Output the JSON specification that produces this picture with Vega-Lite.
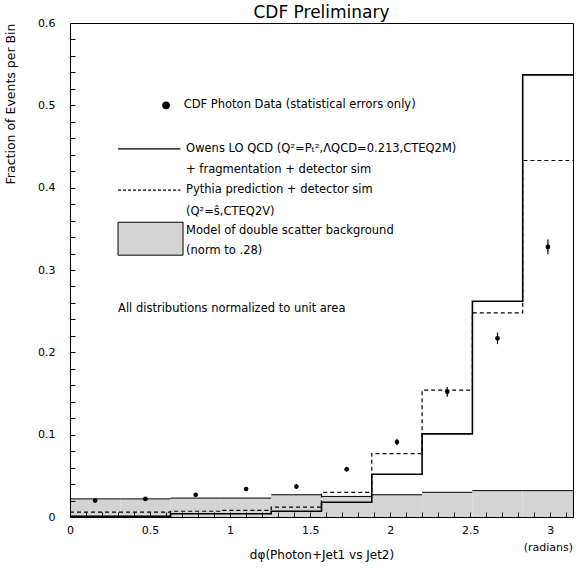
{
  "$schema": "https://vega.github.io/schema/vega-lite/v6.json",
  "width": 503,
  "height": 494,
  "autosize": "none",
  "padding": {"left": 70, "top": 23, "right": 11, "bottom": 54},
  "config": {
    "view": {"stroke": "black", "strokeWidth": 1},
    "font": "DejaVu Sans",
    "text": {"font": "DejaVu Sans"},
    "axis": {"labelOverlap": false, "labelFlush": false, "grid": false}
  },
  "title": {"text": "CDF Preliminary", "fontSize": 17, "fontWeight": "normal", "font": "DejaVu Sans", "offset": -5, "anchor": "middle", "color": "black"},
  "datasets": {
    "bg": [
      {"x": 0.0, "x2": 0.3142, "y": 0.022},
      {"x": 0.3142, "x2": 0.6283, "y": 0.022},
      {"x": 0.6283, "x2": 0.9425, "y": 0.023},
      {"x": 0.9425, "x2": 1.2566, "y": 0.023},
      {"x": 1.2566, "x2": 1.5708, "y": 0.027},
      {"x": 1.5708, "x2": 1.885, "y": 0.025},
      {"x": 1.885, "x2": 2.1991, "y": 0.027},
      {"x": 2.1991, "x2": 2.5133, "y": 0.030},
      {"x": 2.5133, "x2": 2.8274, "y": 0.032},
      {"x": 2.8274, "x2": 3.1416, "y": 0.032}
    ],
    "steps": [
      {"s": "owens", "x": 0.0, "y": 0.001},
      {"s": "owens", "x": 0.3142, "y": 0.001},
      {"s": "owens", "x": 0.6283, "y": 0.004},
      {"s": "owens", "x": 0.9425, "y": 0.004},
      {"s": "owens", "x": 1.2566, "y": 0.007},
      {"s": "owens", "x": 1.5708, "y": 0.018},
      {"s": "owens", "x": 1.885, "y": 0.052},
      {"s": "owens", "x": 2.1991, "y": 0.101},
      {"s": "owens", "x": 2.5133, "y": 0.262},
      {"s": "owens", "x": 2.8274, "y": 0.537},
      {"s": "owens", "x": 3.1416, "y": 0.537},
      {"s": "pythia", "x": 0.0, "y": 0.006},
      {"s": "pythia", "x": 0.3142, "y": 0.006},
      {"s": "pythia", "x": 0.6283, "y": 0.007},
      {"s": "pythia", "x": 0.9425, "y": 0.008},
      {"s": "pythia", "x": 1.2566, "y": 0.012},
      {"s": "pythia", "x": 1.5708, "y": 0.030},
      {"s": "pythia", "x": 1.885, "y": 0.077},
      {"s": "pythia", "x": 2.1991, "y": 0.154},
      {"s": "pythia", "x": 2.5133, "y": 0.248},
      {"s": "pythia", "x": 2.8274, "y": 0.433},
      {"s": "pythia", "x": 3.1416, "y": 0.433}
    ],
    "pts": [
      {"x": 0.157, "y": 0.020},
      {"x": 0.471, "y": 0.022},
      {"x": 0.785, "y": 0.027},
      {"x": 1.100, "y": 0.034},
      {"x": 1.414, "y": 0.037},
      {"x": 1.728, "y": 0.058},
      {"x": 2.042, "y": 0.091},
      {"x": 2.356, "y": 0.152},
      {"x": 2.670, "y": 0.217},
      {"x": 2.985, "y": 0.328}
    ],
    "err": [
      {"x": 0.157, "y": 0.018, "y2": 0.022},
      {"x": 0.471, "y": 0.020, "y2": 0.024},
      {"x": 0.785, "y": 0.025, "y2": 0.029},
      {"x": 1.100, "y": 0.032, "y2": 0.036},
      {"x": 1.414, "y": 0.034, "y2": 0.040},
      {"x": 1.728, "y": 0.055, "y2": 0.061},
      {"x": 2.042, "y": 0.087, "y2": 0.095},
      {"x": 2.356, "y": 0.146, "y2": 0.158},
      {"x": 2.670, "y": 0.210, "y2": 0.224},
      {"x": 2.985, "y": 0.319, "y2": 0.337}
    ],
    "legline": [
      {"s": "solid", "x": 0.30, "x2": 0.69, "y": 0.447},
      {"s": "dashed", "x": 0.30, "x2": 0.69, "y": 0.397}
    ],
    "legbox": [{"x": 0.30, "x2": 0.706, "y": 0.318, "y2": 0.358}],
    "legdot": [{"x": 0.60, "y": 0.5}],
    "labels": [
      {"x": 0.71, "y": 0.5, "t": "CDF Photon Data (statistical errors only)"},
      {"x": 0.725, "y": 0.447, "t": "Owens LO QCD (Q²=Pₜ²,ΛQCD=0.213,CTEQ2M)"},
      {"x": 0.725, "y": 0.422, "t": "+ fragmentation + detector sim"},
      {"x": 0.725, "y": 0.397, "t": "Pythia prediction + detector sim"},
      {"x": 0.725, "y": 0.371, "t": "(Q²=ŝ,CTEQ2V)"},
      {"x": 0.725, "y": 0.347, "t": "Model of double scatter background"},
      {"x": 0.725, "y": 0.323, "t": "(norm to .28)"},
      {"x": 0.30, "y": 0.253, "t": "All distributions normalized to unit area"}
    ],
    "unit": [{"x": 3.1416, "y": -0.038, "t": "(radians)"}]
  },
  "encoding": {
    "x": {"field": "x", "type": "quantitative", "title": "dφ(Photon+Jet1 vs Jet2)", "scale": {"domain": [0, 3.1416], "nice": false, "zero": false},
      "axis": {"titleFontSize": 12, "titleFontWeight": "normal", "titleColor": "black", "titlePadding": 14, "zindex": 1,
        "values": [0,0.1,0.2,0.3,0.4,0.5,0.6,0.7,0.8,0.9,1,1.1,1.2,1.3,1.4,1.5,1.6,1.7,1.8,1.9,2,2.1,2.2,2.3,2.4,2.5,2.6,2.7,2.8,2.9,3,3.1],
        "labelExpr": "abs(datum.value*2 - round(datum.value*2)) < 0.001 ? format(datum.value, '') : ''",
        "tickSize": -5, "tickWidth": 1,
        "labelPadding": 12, "labelFontSize": 11, "labelColor": "black", "tickColor": "black", "domainColor": "black", "labelFlush": false, "labelOverlap": false}},
    "y": {"field": "y", "type": "quantitative", "title": "Fraction of Events per Bin", "scale": {"domain": [0, 0.6], "nice": false},
      "axis": {"titleFontSize": 12.5, "titleFontWeight": "normal", "titleColor": "black", "titleAnchor": "end", "titleX": -60, "titleY": 0, "titleAngle": -90, "titleAlign": "right", "titleBaseline": "middle", "zindex": 1,
        "values": [0,0.02,0.04,0.06,0.08,0.1,0.12,0.14,0.16,0.18,0.2,0.22,0.24,0.26,0.28,0.3,0.32,0.34,0.36,0.38,0.4,0.42,0.44,0.46,0.48,0.5,0.52,0.54,0.56,0.58,0.6],
        "labelExpr": "abs(datum.value*10 - round(datum.value*10)) < 0.001 ? (datum.value == 0 ? '0' : format(datum.value, '.1f')) : ''",
        "tickSize": -5, "tickWidth": 1,
        "labelPadding": 20, "labelFontSize": 11, "labelColor": "black", "tickColor": "black", "domainColor": "black", "labelOverlap": false, "labelFlush": false}}
  },
  "layer": [
    {
      "data": {"name": "bg"},
      "mark": {"type": "rect", "fill": "#d4d4d4", "stroke": null},
      "encoding": {"x2": {"field": "x2"}, "y2": {"datum": 0}}
    },
    {
      "data": {"name": "bg"},
      "mark": {"type": "rule", "color": "black", "strokeWidth": 1},
      "encoding": {"x2": {"field": "x2"}}
    },
    {
      "data": {"name": "steps"},
      "transform": [{"filter": "datum.s == 'pythia'"}],
      "mark": {"type": "line", "interpolate": "step-after", "color": "black", "strokeWidth": 1.2, "strokeDash": [4, 3]},
      "encoding": {}
    },
    {
      "data": {"name": "steps"},
      "transform": [{"filter": "datum.s == 'owens'"}],
      "mark": {"type": "line", "interpolate": "step-after", "color": "black", "strokeWidth": 1.6},
      "encoding": {}
    },
    {
      "data": {"name": "err"},
      "mark": {"type": "rule", "color": "black", "strokeWidth": 1.2},
      "encoding": {"y2": {"field": "y2"}}
    },
    {
      "data": {"name": "pts"},
      "mark": {"type": "point", "filled": true, "color": "black", "size": 22, "opacity": 1},
      "encoding": {}
    },
    {
      "data": {"name": "legdot"},
      "mark": {"type": "point", "filled": true, "color": "black", "size": 60, "opacity": 1},
      "encoding": {}
    },
    {
      "data": {"name": "legline"},
      "transform": [{"filter": "datum.s == 'solid'"}],
      "mark": {"type": "rule", "color": "black", "strokeWidth": 1.2},
      "encoding": {"x2": {"field": "x2"}}
    },
    {
      "data": {"name": "legline"},
      "transform": [{"filter": "datum.s == 'dashed'"}],
      "mark": {"type": "rule", "color": "black", "strokeWidth": 1.2, "strokeDash": [3, 2]},
      "encoding": {"x2": {"field": "x2"}}
    },
    {
      "data": {"name": "legbox"},
      "mark": {"type": "rect", "fill": "#d4d4d4", "stroke": "black", "strokeWidth": 1},
      "encoding": {"x2": {"field": "x2"}, "y2": {"field": "y2"}}
    },
    {
      "data": {"name": "labels"},
      "mark": {"type": "text", "align": "left", "baseline": "middle", "fontSize": 11.5, "color": "black"},
      "encoding": {"text": {"field": "t"}}
    },
    {
      "data": {"name": "unit"},
      "mark": {"type": "text", "align": "right", "baseline": "middle", "fontSize": 11, "color": "black"},
      "encoding": {"text": {"field": "t"}}
    }
  ]
}
